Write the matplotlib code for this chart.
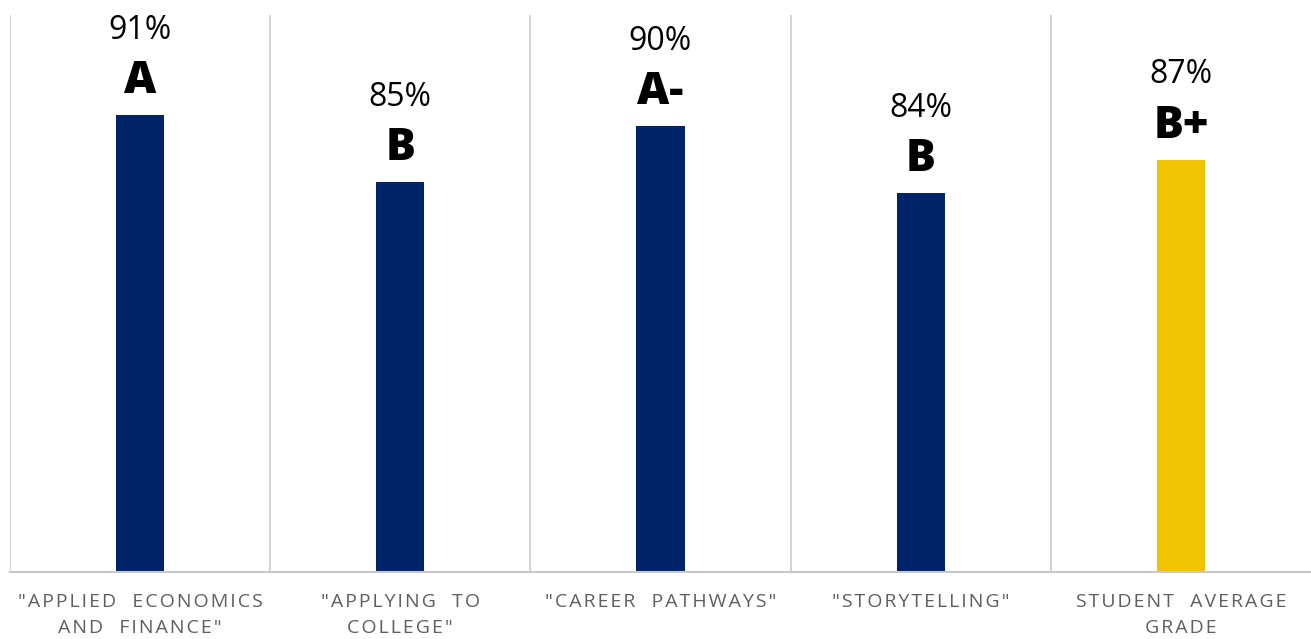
import numpy as np
import matplotlib.pyplot as plt

# Course grades with the overall student average last
courses = ['"APPLIED ECONOMICS\nAND FINANCE"', '"APPLYING TO\nCOLLEGE"',
           '"CAREER PATHWAYS"', '"STORYTELLING"', 'STUDENT AVERAGE\nGRADE']
scores = [91, 85, 90, 84, 87]
grades = ['A', 'B', 'A-', 'B', 'B+']
colors = ['#00246a', '#00246a', '#00246a', '#00246a', '#f2c300']

FONTS = ['Open Sans', 'DejaVu Sans']


def spaced(label):
    # widen the tracking of the category labels with hair spaces
    lines = [line.replace(' ', '  ') for line in label.split('\n')]
    return '\n'.join('\u200a'.join(line) for line in lines)


fig = plt.figure(figsize=(13.11, 6.39), dpi=100)
ax = fig.add_axes([10 / 1311, 1 - 572 / 639, 1 - 10 / 1311, (572 - 15) / 639])

x = np.arange(len(courses))
ax.bar(x, scores, width=0.185, color=colors, zorder=2)

ax.set_xlim(-0.5, len(courses) - 0.5)
ax.set_ylim(50, 100)

# separators between categories
for b in np.arange(-0.5, len(courses) - 0.5):
    ax.axvline(b, color='#d0d0d0', lw=1.3, zorder=1)

for xi, s, g in zip(x, scores, grades):
    ax.annotate(g, (xi, s), xytext=(0, 16), textcoords='offset points',
                ha='center', va='baseline', fontsize=32, fontweight='heavy',
                family=FONTS, color='black')
    ax.annotate(f'{s}%', (xi, s), xytext=(0, 55), textcoords='offset points',
                ha='center', va='baseline', fontsize=23, fontweight='normal',
                family=FONTS, color='black')

ax.set_xticks(x)
ax.set_xticklabels([spaced(c) for c in courses], family=FONTS, fontsize=14,
                   color='#5f5f5f', linespacing=1.55)
ax.tick_params(axis='x', length=0, pad=15)
ax.set_yticks([])

for side in ['top', 'right', 'left']:
    ax.spines[side].set_visible(False)
ax.spines['bottom'].set_color('#c8c8c8')
ax.spines['bottom'].set_linewidth(1.5)

fig.savefig('out.png', dpi=100)
